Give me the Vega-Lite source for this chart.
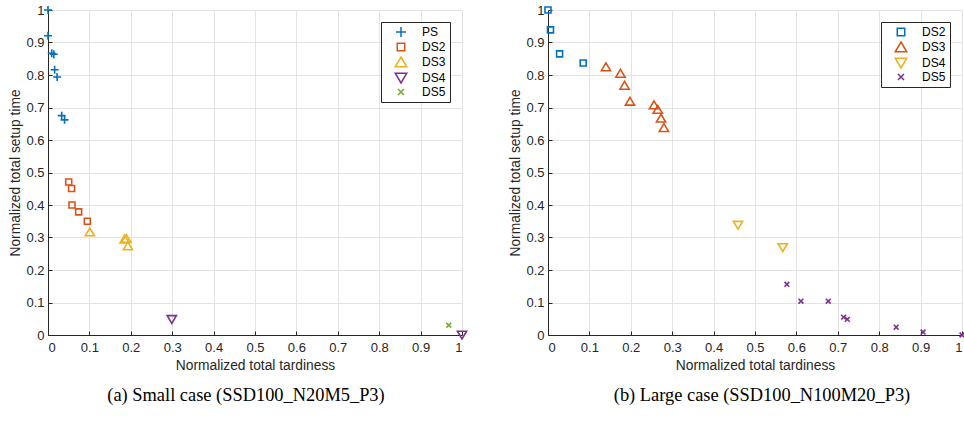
{
  "$schema": "https://vega.github.io/schema/vega-lite/v6.json",
  "padding": {"left": 8, "top": 2, "right": 0, "bottom": 0},
  "background": "white",
  "config": {
    "font": "Liberation Sans",
    "view": {"stroke": null},
    "axis": {
      "domainColor": "#262626", "tickColor": "#262626", "labelColor": "#262626", "titleColor": "#262626",
      "labelFont": "Liberation Sans", "titleFont": "Liberation Sans", "labelFontSize": 13, "titleFontSize": 13.8,
      "titleFontWeight": "normal", "gridColor": "#e3e3e3", "tickSize": -4, "domainWidth": 1
    },
    "legend": {
      "orient": "top-right", "offset": 12, "strokeColor": "#262626", "fillColor": "white", "padding": 4,
      "labelFont": "Liberation Sans", "labelFontSize": 12, "labelColor": "#000000", "symbolStrokeWidth": 1.5,
      "symbolOffset": 10, "labelOffset": 15, "rowPadding": 0, "title": null
    },
    "title": {"font": "Liberation Serif", "fontSize": 18.4, "fontWeight": "normal", "color": "#000000", "orient": "bottom", "offset": 14}
  },
  "datasets": {
    "small": [
      {"series": "PS", "tardiness": 0.0, "setup": 1.0},
      {"series": "PS", "tardiness": 0.0, "setup": 0.921},
      {"series": "PS", "tardiness": 0.009, "setup": 0.867},
      {"series": "PS", "tardiness": 0.014, "setup": 0.864},
      {"series": "PS", "tardiness": 0.016, "setup": 0.816},
      {"series": "PS", "tardiness": 0.022, "setup": 0.794},
      {"series": "PS", "tardiness": 0.033, "setup": 0.675},
      {"series": "PS", "tardiness": 0.040, "setup": 0.662},
      {"series": "DS2", "tardiness": 0.050, "setup": 0.471},
      {"series": "DS2", "tardiness": 0.057, "setup": 0.451},
      {"series": "DS2", "tardiness": 0.058, "setup": 0.400},
      {"series": "DS2", "tardiness": 0.074, "setup": 0.379},
      {"series": "DS2", "tardiness": 0.095, "setup": 0.350},
      {"series": "DS3", "tardiness": 0.101, "setup": 0.317},
      {"series": "DS3", "tardiness": 0.185, "setup": 0.295},
      {"series": "DS3", "tardiness": 0.189, "setup": 0.297},
      {"series": "DS3", "tardiness": 0.193, "setup": 0.274},
      {"series": "DS4", "tardiness": 0.299, "setup": 0.048},
      {"series": "DS4", "tardiness": 1.0, "setup": 0.0},
      {"series": "DS5", "tardiness": 0.968, "setup": 0.030}
    ],
    "large": [
      {"series": "DS2", "tardiness": 0.0, "setup": 1.0},
      {"series": "DS2", "tardiness": 0.006, "setup": 0.939},
      {"series": "DS2", "tardiness": 0.028, "setup": 0.865},
      {"series": "DS2", "tardiness": 0.085, "setup": 0.837},
      {"series": "DS3", "tardiness": 0.140, "setup": 0.825},
      {"series": "DS3", "tardiness": 0.175, "setup": 0.805},
      {"series": "DS3", "tardiness": 0.185, "setup": 0.768},
      {"series": "DS3", "tardiness": 0.198, "setup": 0.719},
      {"series": "DS3", "tardiness": 0.256, "setup": 0.708},
      {"series": "DS3", "tardiness": 0.265, "setup": 0.694},
      {"series": "DS3", "tardiness": 0.273, "setup": 0.667},
      {"series": "DS3", "tardiness": 0.280, "setup": 0.638},
      {"series": "DS4", "tardiness": 0.459, "setup": 0.338},
      {"series": "DS4", "tardiness": 0.567, "setup": 0.269},
      {"series": "DS5", "tardiness": 0.577, "setup": 0.156},
      {"series": "DS5", "tardiness": 0.611, "setup": 0.104},
      {"series": "DS5", "tardiness": 0.677, "setup": 0.104},
      {"series": "DS5", "tardiness": 0.714, "setup": 0.055},
      {"series": "DS5", "tardiness": 0.723, "setup": 0.048},
      {"series": "DS5", "tardiness": 0.841, "setup": 0.024},
      {"series": "DS5", "tardiness": 0.906, "setup": 0.009},
      {"series": "DS5", "tardiness": 1.0, "setup": 0.0}
    ]
  },
  "spacing": 38,
  "resolve": {"scale": {"color": "independent", "shape": "independent"}, "legend": {"color": "independent", "shape": "independent"}},
  "hconcat": [
    {
      "width": 414, "height": 325,
      "title": {"text": "(a) Small case (SSD100_N20M5_P3)", "dx": -9},
      "data": {"name": "small"},
      "mark": {"type": "point", "filled": false, "strokeWidth": 1.6, "size": 64, "opacity": 1, "clip": false},
      "encoding": {
        "x": {"field": "tardiness", "type": "quantitative", "title": "Normalized total tardiness",
              "scale": {"domain": [0, 1], "nice": false, "zero": false},
              "axis": {"values": [0, 0.1, 0.2, 0.3, 0.4, 0.5, 0.6, 0.7, 0.8, 0.9, 1], "format": "~g", "labelPadding": 10, "titlePadding": 4}},
        "y": {"field": "setup", "type": "quantitative", "title": "Normalized total setup time",
              "scale": {"domain": [0, 1], "nice": false, "zero": false},
              "axis": {"values": [0, 0.1, 0.2, 0.3, 0.4, 0.5, 0.6, 0.7, 0.8, 0.9, 1], "format": "~g", "labelPadding": 8, "titlePadding": 3}},
        "color": {"field": "series", "type": "nominal",
                  "scale": {"domain": ["PS", "DS2", "DS3", "DS4", "DS5"], "range": ["#0072BD", "#D95319", "#EDB120", "#7E2F8E", "#77AC30"]}},
        "shape": {"field": "series", "type": "nominal",
                  "scale": {"domain": ["PS", "DS2", "DS3", "DS4", "DS5"],
                            "range": ["M-1,0L1,0M0,-1L0,1", "M-0.75,-0.75L0.75,-0.75L0.75,0.75L-0.75,0.75Z", "M0,-1L1.15,0.95L-1.15,0.95Z", "M-1.15,-0.95L1.15,-0.95L0,1Z", "M-0.6,-0.6L0.6,0.6M-0.6,0.6L0.6,-0.6"]}}
      }
    },
    {
      "width": 414, "height": 325,
      "title": {"text": "(b) Large case (SSD100_N100M20_P3)", "dx": 7},
      "data": {"name": "large"},
      "mark": {"type": "point", "filled": false, "strokeWidth": 1.6, "size": 64, "opacity": 1, "clip": false},
      "encoding": {
        "x": {"field": "tardiness", "type": "quantitative", "title": "Normalized total tardiness",
              "scale": {"domain": [0, 1], "nice": false, "zero": false},
              "axis": {"values": [0, 0.1, 0.2, 0.3, 0.4, 0.5, 0.6, 0.7, 0.8, 0.9, 1], "format": "~g", "labelPadding": 10, "titlePadding": 4}},
        "y": {"field": "setup", "type": "quantitative", "title": "Normalized total setup time",
              "scale": {"domain": [0, 1], "nice": false, "zero": false},
              "axis": {"values": [0, 0.1, 0.2, 0.3, 0.4, 0.5, 0.6, 0.7, 0.8, 0.9, 1], "format": "~g", "labelPadding": 8, "titlePadding": 3}},
        "color": {"field": "series", "type": "nominal",
                  "scale": {"domain": ["DS2", "DS3", "DS4", "DS5"], "range": ["#0072BD", "#D95319", "#EDB120", "#7E2F8E"]}},
        "shape": {"field": "series", "type": "nominal",
                  "scale": {"domain": ["DS2", "DS3", "DS4", "DS5"],
                            "range": ["M-0.75,-0.75L0.75,-0.75L0.75,0.75L-0.75,0.75Z", "M0,-1L1.15,0.95L-1.15,0.95Z", "M-1.15,-0.95L1.15,-0.95L0,1Z", "M-0.6,-0.6L0.6,0.6M-0.6,0.6L0.6,-0.6"]}}
      }
    }
  ]
}
